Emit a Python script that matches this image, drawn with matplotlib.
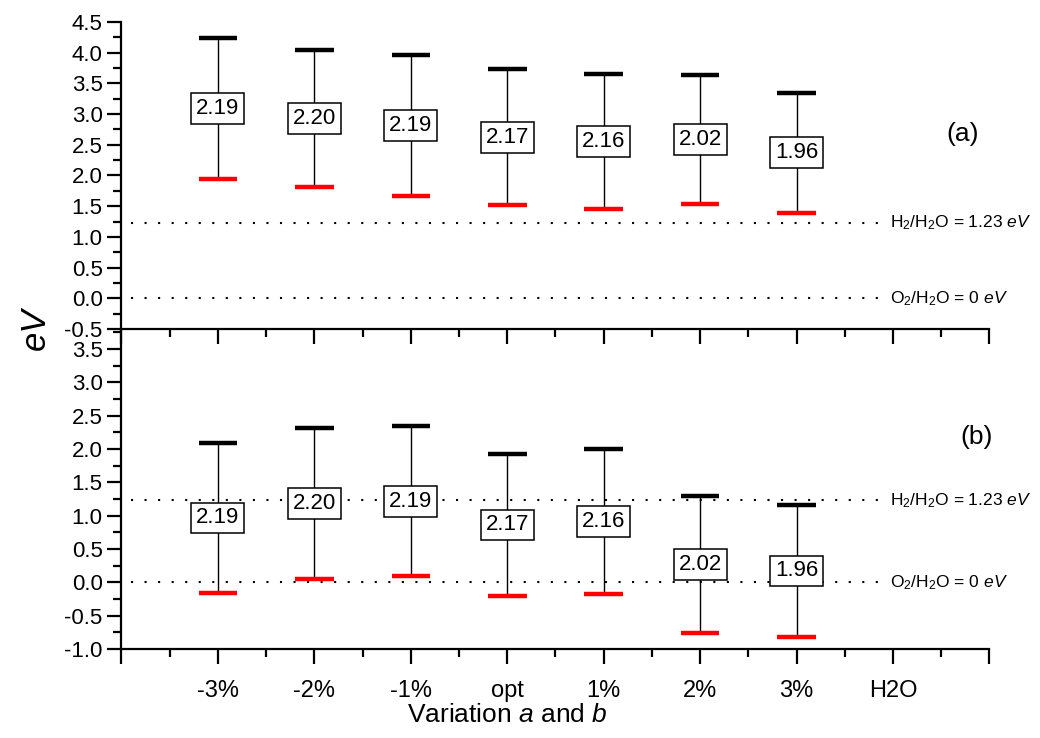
import numpy as np
import matplotlib
matplotlib.use('Agg')
import matplotlib.pyplot as plt
from matplotlib.ticker import MultipleLocator, FixedLocator, FormatStrFormatter

plt.rcParams['font.family'] = ['Liberation Sans', 'DejaVu Sans']
plt.rcParams['mathtext.fontset'] = 'custom'
plt.rcParams['mathtext.rm'] = 'Liberation Sans'
plt.rcParams['mathtext.it'] = 'Liberation Sans:italic'

# ---data----------------------------------------------------------------------
variations = ['-3%', '-2%', '-1%', 'opt', '1%', '2%', '3%', 'H2O']
gap_labels = ['2.19', '2.20', '2.19', '2.17', '2.16', '2.02', '1.96']

# (a) band edges
top_a = [4.24, 4.04, 3.97, 3.73, 3.66, 3.64, 3.35]
bot_a = [1.94, 1.82, 1.67, 1.52, 1.46, 1.54, 1.39]

# (b) band edges
top_b = [2.09, 2.31, 2.34, 1.92, 2.00, 1.30, 1.16]
bot_b = [-0.16, 0.05, 0.09, -0.20, -0.17, -0.76, -0.82]

h2_level = 1.23
o2_level = 0.0

#---figure---------------------------------------------------------------------#
fig = plt.figure(figsize=(10.4, 7.38), dpi=100)
axB = fig.add_axes([0.1168, 0.1206, 0.8346, 0.4336])
axA = fig.add_axes([0.1168, 0.5542, 0.8346, 0.416])
axA.patch.set_alpha(0)
axB.patch.set_alpha(0)

xpos = np.arange(1, len(variations) + 1)


def drawPanel(ax, tops, bots, ylo, yhi, tag, tag_xy):
    x = xpos[:len(tops)]
    ax.vlines(x, bots, tops, color='black', lw=1.0, zorder=2)
    ax.hlines(tops, x - 0.2, x + 0.2, color='black', lw=3.2, zorder=3)
    ax.hlines(bots, x - 0.2, x + 0.2, color='red', lw=3.2, zorder=3)
    for xi, t, b, lab in zip(x, tops, bots, gap_labels):
        ax.text(xi, (t + b) / 2, lab, ha='center', va='center', fontsize=16,
                zorder=4,
                bbox=dict(boxstyle='square,pad=0.22', fc='white', ec='black', lw=1.1))

    ax.plot([0.1, 7.95], [h2_level, h2_level], color='black', lw=1.5,
            ls=(0, (1, 5.5)), zorder=1)
    ax.plot([0.1, 7.95], [o2_level, o2_level], color='black', lw=1.5,
            ls=(0, (1, 5.5)), zorder=1)
    ax.text(7.97, h2_level, 'H$_2$/H$_2$O = 1.23 $eV$', fontsize=12.5,
            ha='left', va='center')
    ax.text(7.97, o2_level, 'O$_2$/H$_2$O = 0 $eV$', fontsize=12.5,
            ha='left', va='center')
    ax.text(tag_xy[0], tag_xy[1], tag, fontsize=19, ha='center', va='center')

    ax.set_xlim(0, 9)
    ax.set_ylim(ylo, yhi)
    ax.xaxis.set_major_locator(FixedLocator(np.arange(0, 10)))
    ax.xaxis.set_minor_locator(FixedLocator(np.arange(0.5, 9, 1.0)))
    ax.yaxis.set_major_locator(MultipleLocator(0.5))
    ax.yaxis.set_minor_locator(MultipleLocator(0.25))
    ax.yaxis.set_major_formatter(FormatStrFormatter('%.1f'))

    for side in ['top', 'right']:
        ax.spines[side].set_visible(False)
    for side in ['left', 'bottom']:
        ax.spines[side].set_linewidth(1.6)
    ax.tick_params(which='major', direction='out', length=10, width=1.6,
                   labelsize=16)
    ax.tick_params(which='minor', direction='out', length=5.5, width=1.6)
    ax.tick_params(axis='x', which='major', length=11)


drawPanel(axA, top_a, bot_a, -0.5, 4.5, '(a)', (8.72, 2.68))
drawPanel(axB, top_b, bot_b, -1.0, 3.8, '(b)', (8.87, 2.18))

axA.set_xticklabels([])
axB.set_xticklabels([''] + variations + [''], fontsize=17)
axB.tick_params(axis='x', pad=11)
axB.set_xlabel('Variation $a$ and $b$', fontsize=19)
axB.xaxis.set_label_coords(0.444, -0.17)

fig.text(0.034, 0.555, 'eV', rotation=90, fontsize=25, ha='center', va='center',
         style='italic')

fig.savefig('out.png', dpi=100)
